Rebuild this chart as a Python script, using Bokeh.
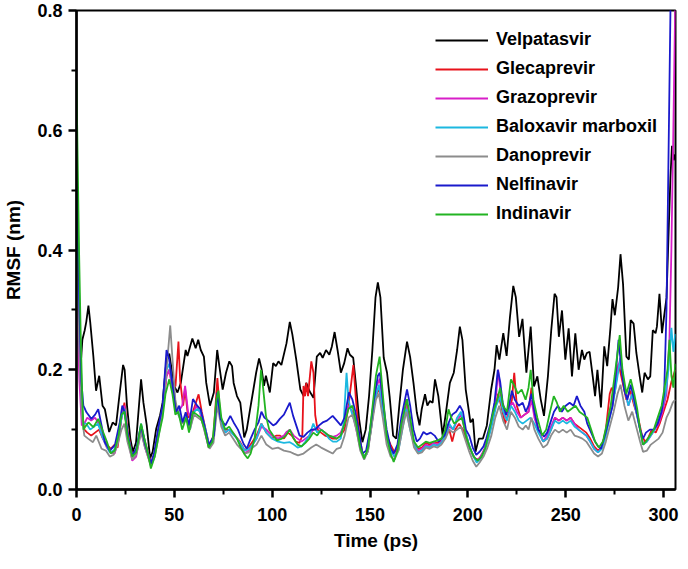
from bokeh.plotting import figure
from bokeh.models import Range1d, FixedTicker, PrintfTickFormatter, Legend, LegendItem
from bokeh.embed import file_html
from bokeh.resources import INLINE

names = ["Velpatasvir", "Glecaprevir", "Grazoprevir", "Baloxavir marboxil",
         "Danoprevir", "Nelfinavir", "Indinavir"]
colors = ["#000000", "#e8121b", "#d81ec8", "#1cb8e0", "#8c8c8c", "#1a1acc", "#22b422"]

# (time ps, RMSF nm) pairs
velpatasvir = [(0,0.27),(1,0.24),(2,0.2),(3,0.25),(4.2,0.266),(5,0.28),(6.1,0.307),(7,0.28),(8.6,0.223),(10,0.165),(11.6,0.19),(13.3,0.14),(14.5,0.134),(16.7,0.096),(18.5,0.112),(20.2,0.107),(22.1,0.162),(23.8,0.208),(24.6,0.2),(25.8,0.14),(27.5,0.085),(28.8,0.063),(30.4,0.078),(33,0.184),(34.2,0.145),(35.9,0.107),(37.6,0.052),(38.9,0.063),(40.7,0.101),(42.7,0.124),(44,0.145),(46,0.217),(47.4,0.227),(49.9,0.173),(51.6,0.162),(53.3,0.178),(55.8,0.233),(56.7,0.223),(59.2,0.252),(60.9,0.236),(62.2,0.25),(63.5,0.233),(65.1,0.222),(66.3,0.178),(68.2,0.14),(70.2,0.162),(71.9,0.233),(73,0.206),(74.7,0.167),(76.4,0.195),(78.1,0.214),(79.5,0.206),(80.3,0.178),(82,0.156),(83.7,0.145),(85.7,0.087),(87,0.1),(88.7,0.134),(90.4,0.167),(91.8,0.195),(93.3,0.219),(94.6,0.201),(95.8,0.173),(96.8,0.19),(98.8,0.162),(100.5,0.211),(101.9,0.206),(103.2,0.214),(104.7,0.208),(107.3,0.244),(109,0.28),(110.3,0.259),(112.3,0.217),(114.4,0.167),(116.1,0.156),(117.4,0.178),(119.1,0.164),(121.1,0.153),(122.8,0.222),(124.5,0.228),(125.8,0.22),(127.5,0.233),(129.2,0.225),(130.5,0.239),(131.9,0.263),(133.4,0.233),(135.1,0.195),(136.8,0.211),(138.5,0.236),(139.7,0.225),(141.4,0.22),(142.7,0.178),(144.4,0.118),(146.1,0.079),(147.8,0.1),(149.5,0.156),(151.2,0.233),(152.8,0.321),(154,0.346),(155.3,0.321),(157,0.22),(158.7,0.195),(160,0.156),(161.8,0.09),(163.4,0.085),(165.1,0.145),(166.8,0.2),(168.9,0.247),(170.5,0.221),(172.2,0.178),(173.9,0.129),(175.3,0.107),(176.4,0.134),(178.1,0.159),(179.3,0.14),(180.6,0.148),(182,0.145),(183.2,0.184),(184.9,0.156),(187.1,0.09),(188.8,0.129),(190.8,0.178),(192.8,0.195),(194.5,0.233),(195.9,0.272),(197.2,0.25),(198.9,0.167),(200.1,0.14),(201.3,0.112),(202.6,0.118),(203.9,0.063),(205.6,0.085),(207.7,0.085),(209.7,0.107),(211.9,0.167),(213.6,0.2),(214.7,0.241),(216.1,0.217),(218.1,0.261),(219.8,0.223),(221.5,0.288),(223.2,0.34),(224.5,0.321),(226.2,0.255),(227.9,0.285),(229.9,0.195),(232.1,0.272),(233.8,0.172),(235.5,0.189),(237.2,0.151),(238.9,0.123),(240.9,0.189),(242.6,0.266),(244.3,0.327),(245.3,0.321),(246.5,0.255),(248.1,0.299),(249.8,0.217),(251.5,0.269),(253.2,0.189),(254.9,0.261),(256.6,0.2),(258.3,0.233),(259.5,0.217),(260.8,0.228),(262.2,0.23),(263.8,0.189),(265,0.156),(266.2,0.2),(268,0.137),(269.7,0.239),(271.2,0.206),(272.9,0.272),(273.9,0.318),(275.1,0.291),(276.8,0.338),(278,0.393),(279.3,0.343),(281,0.222),(282.3,0.217),(283.2,0.283),(284.7,0.277),(286.1,0.228),(287.8,0.189),(289.1,0.162),(290.3,0.195),(292,0.184),(293.2,0.189),(294.5,0.266),(295.9,0.261),(296.6,0.272),(297.9,0.327),(299.2,0.261),(300.3,0.29),(301.5,0.32),(302.5,0.42),(303.5,0.52),(304.3,0.574),(305.2,0.55),(306,0.56)]

glecaprevir = [(0,0.33),(0.8,0.29),(1.8,0.2),(2.8,0.13),(4,0.1),(5.5,0.095),(7.5,0.09),(9.5,0.095),(11.5,0.1),(13.5,0.085),(15.5,0.075),(17.5,0.068),(19.5,0.075),(21,0.07),(23,0.12),(24.5,0.145),(26,0.1),(28.5,0.058),(30.5,0.065),(33,0.105),(35,0.08),(38,0.045),(40,0.06),(42,0.1),(44,0.13),(46,0.19),(47.5,0.2),(49,0.17),(50.6,0.173),(52.1,0.247),(53,0.18),(54.5,0.14),(55.5,0.168),(57,0.12),(59,0.125),(60.5,0.14),(62.4,0.159),(64,0.13),(66,0.1),(68,0.072),(70,0.09),(72,0.186),(73.5,0.12),(75.5,0.1),(77.5,0.1),(79.5,0.095),(81.5,0.088),(83.5,0.08),(86,0.065),(88,0.07),(90,0.08),(92,0.09),(94.5,0.11),(97,0.095),(100,0.085),(102,0.09),(104,0.09),(106,0.085),(108,0.095),(110,0.09),(112,0.08),(114,0.078),(115.4,0.09),(116,0.173),(116.8,0.156),(117.4,0.178),(118.3,0.156),(120,0.214),(121.1,0.195),(122,0.124),(123.2,0.1),(125,0.095),(127,0.09),(129,0.088),(131,0.085),(133,0.085),(135,0.09),(137,0.1),(139,0.14),(141.5,0.208),(142.8,0.15),(144.5,0.09),(146.5,0.055),(148.5,0.06),(150.5,0.1),(152.5,0.15),(154.5,0.17),(156.5,0.13),(158.5,0.09),(160.5,0.075),(162.5,0.062),(164.5,0.07),(166.5,0.11),(168.5,0.15),(170.5,0.11),(172.5,0.075),(174.5,0.068),(176.5,0.07),(178.5,0.078),(180.5,0.075),(182.5,0.08),(184.5,0.078),(186.5,0.082),(188.5,0.09),(190.5,0.1),(192,0.08),(193.5,0.1),(195.5,0.11),(197.5,0.1),(199.5,0.08),(201.5,0.065),(203.5,0.052),(205.5,0.05),(207.5,0.06),(209.5,0.075),(211.5,0.1),(213.5,0.13),(215.5,0.16),(217,0.14),(219,0.11),(221,0.13),(222.5,0.15),(223.7,0.195),(225,0.14),(227,0.12),(229,0.125),(231,0.13),(232.5,0.17),(234,0.13),(236,0.1),(238.5,0.08),(240.5,0.085),(242.5,0.1),(244.5,0.12),(246.5,0.115),(248.5,0.12),(250.5,0.115),(252.5,0.12),(254.5,0.11),(256.5,0.105),(258.5,0.1),(260.5,0.095),(262.5,0.085),(264.5,0.072),(266.5,0.065),(268.5,0.07),(270.5,0.1),(272.5,0.16),(273.5,0.17),(275,0.16),(277,0.21),(279,0.18),(281,0.15),(283,0.165),(285,0.14),(287,0.12),(289,0.09),(290.5,0.08),(292,0.085),(294,0.1),(296,0.095),(298,0.11),(300,0.13),(302,0.15),(304,0.18),(306,0.2)]

grazoprevir = [(0,0.3),(0.8,0.25),(1.5,0.18),(2.7,0.107),(4,0.11),(5.5,0.12),(7.5,0.115),(9.5,0.12),(11.5,0.11),(13.5,0.085),(15.5,0.07),(17.5,0.062),(19.5,0.06),(21.5,0.085),(23,0.12),(24.5,0.14),(26,0.09),(28.5,0.048),(30.5,0.055),(33,0.1),(35,0.07),(38,0.04),(40,0.058),(42,0.1),(44,0.13),(46,0.19),(47.5,0.2),(49,0.165),(50.5,0.14),(52,0.13),(54,0.14),(55.5,0.173),(57,0.13),(59,0.115),(61,0.14),(63,0.13),(65,0.105),(67.5,0.07),(70,0.085),(72,0.155),(74,0.115),(76,0.095),(78,0.1),(80,0.095),(82,0.085),(84,0.075),(86,0.06),(88,0.065),(90,0.075),(92,0.085),(94.5,0.105),(97,0.1),(100,0.09),(103,0.085),(106,0.09),(107.3,0.096),(109,0.1),(111,0.09),(113,0.085),(115,0.08),(117,0.085),(119,0.09),(121,0.1),(123,0.105),(125,0.1),(127,0.095),(129,0.09),(131,0.088),(133,0.09),(135,0.095),(137,0.11),(139,0.14),(141,0.13),(143,0.1),(145,0.068),(147,0.052),(149,0.065),(151,0.12),(153,0.17),(155,0.185),(156.5,0.14),(158.5,0.09),(160.5,0.065),(162.5,0.055),(164.5,0.068),(166.5,0.105),(168.5,0.14),(170.5,0.11),(172.5,0.078),(174.5,0.065),(176.5,0.068),(178.5,0.075),(180.5,0.072),(182.5,0.078),(184.5,0.075),(186.5,0.08),(188.5,0.09),(190.5,0.105),(192.5,0.1),(194.5,0.115),(196.5,0.125),(198.5,0.1),(200.5,0.075),(202.5,0.058),(204.5,0.048),(206.5,0.055),(208.5,0.068),(210.5,0.09),(212.5,0.12),(214.5,0.16),(215.5,0.2),(217,0.15),(219,0.12),(221,0.14),(223,0.145),(225,0.13),(227,0.12),(229,0.125),(231,0.13),(232.5,0.15),(234,0.12),(236,0.1),(238.5,0.08),(240.5,0.09),(242.5,0.105),(244.5,0.12),(246.5,0.115),(248.5,0.12),(250.5,0.115),(252.5,0.12),(254.5,0.11),(256.5,0.1),(258.5,0.095),(260.5,0.09),(262.5,0.08),(264.5,0.068),(266.5,0.062),(268.5,0.07),(270.5,0.095),(272.5,0.13),(274.5,0.16),(276.5,0.2),(278,0.22),(280,0.17),(282,0.14),(284,0.16),(286,0.13),(288,0.1),(289.5,0.075),(291.5,0.08),(293.5,0.09),(295.5,0.1),(297.5,0.11),(299.5,0.13),(301.5,0.16),(303,0.25),(304,0.4),(305,0.6),(306,0.82)]

baloxavir = [(0,0.45),(0.7,0.38),(1.5,0.25),(2.5,0.15),(3.5,0.11),(5,0.11),(7,0.1),(9,0.105),(11,0.11),(13,0.09),(15,0.075),(17,0.062),(19,0.065),(21,0.08),(23,0.12),(24.5,0.135),(26,0.095),(28.5,0.055),(30.5,0.063),(33,0.11),(35,0.08),(38,0.042),(40,0.06),(42,0.1),(44,0.135),(46,0.2),(47.5,0.21),(49,0.175),(50.5,0.14),(52,0.13),(54,0.11),(56,0.125),(58,0.1),(60,0.13),(62,0.135),(64,0.125),(66,0.1),(68,0.07),(70,0.085),(72,0.15),(74,0.11),(76,0.095),(78,0.1),(80,0.092),(82,0.085),(84,0.075),(86,0.065),(88,0.068),(90,0.075),(92,0.085),(94.5,0.11),(97,0.095),(100,0.085),(103,0.08),(106,0.078),(109,0.079),(111,0.075),(113,0.07),(115,0.072),(117,0.08),(119,0.09),(121,0.11),(123,0.095),(125,0.1),(127,0.095),(129,0.085),(131,0.08),(133,0.08),(135,0.085),(136.5,0.11),(138,0.195),(139,0.15),(140.5,0.13),(142.5,0.11),(144.5,0.08),(146.5,0.055),(148.5,0.06),(150.5,0.1),(152.5,0.15),(154.5,0.175),(156.5,0.13),(158.5,0.085),(160.5,0.065),(162.5,0.055),(164.5,0.065),(166.5,0.1),(168.5,0.135),(170.5,0.1),(172.5,0.075),(174.5,0.062),(176.5,0.065),(178.5,0.072),(180.5,0.07),(182.5,0.075),(184.5,0.073),(186.5,0.078),(188.5,0.09),(190.5,0.11),(192.5,0.1),(194.5,0.12),(196.5,0.13),(198.5,0.1),(200.5,0.075),(202.5,0.058),(204.5,0.045),(206.5,0.052),(208.5,0.065),(210.5,0.085),(212.5,0.11),(214.5,0.14),(216.5,0.155),(218,0.13),(220,0.115),(222,0.14),(224,0.13),(226,0.115),(228,0.11),(230,0.115),(232,0.12),(234,0.11),(236,0.095),(238.5,0.08),(240.5,0.085),(242.5,0.1),(244.5,0.115),(246.5,0.11),(248.5,0.115),(250.5,0.11),(252.5,0.115),(254.5,0.105),(256.5,0.1),(258.5,0.095),(260.5,0.09),(262.5,0.08),(264.5,0.068),(266.5,0.062),(268.5,0.068),(270.5,0.09),(272.5,0.12),(274.5,0.15),(276.5,0.19),(278,0.22),(280,0.17),(282,0.14),(284,0.16),(286,0.13),(288,0.1),(289.5,0.075),(291.5,0.08),(293.5,0.09),(295.5,0.1),(297.5,0.12),(299.5,0.14),(301,0.16),(302.5,0.2),(304,0.27),(305,0.23),(306,0.26)]

danoprevir = [(0,0.38),(0.8,0.3),(1.8,0.2),(2.8,0.12),(4,0.09),(5.9,0.085),(8.4,0.079),(10.1,0.09),(12.8,0.068),(15,0.065),(17,0.055),(19,0.058),(21,0.075),(23,0.1),(24.5,0.11),(26,0.08),(28.5,0.05),(30.5,0.058),(33,0.095),(35,0.07),(38,0.04),(40,0.055),(42,0.09),(44,0.13),(46,0.2),(47.9,0.274),(49,0.22),(50.5,0.15),(52,0.125),(54,0.11),(56,0.12),(58,0.1),(60,0.125),(62,0.12),(64,0.115),(66,0.09),(68,0.068),(70,0.078),(72,0.14),(74,0.105),(76,0.09),(78,0.095),(80,0.085),(82,0.075),(84,0.068),(86,0.06),(88,0.062),(90,0.07),(92,0.075),(94.5,0.09),(97,0.075),(100,0.068),(103,0.07),(106,0.065),(109,0.063),(111,0.06),(113.2,0.057),(116,0.06),(118,0.065),(120,0.07),(122.5,0.075),(125,0.07),(128,0.065),(130.9,0.06),(133,0.068),(135,0.07),(137,0.09),(139,0.12),(141,0.125),(143,0.1),(145,0.065),(147,0.05),(149,0.065),(151,0.11),(153,0.15),(154.5,0.16),(156.5,0.12),(158.5,0.075),(160.5,0.055),(162.5,0.05),(164.5,0.065),(166.5,0.1),(168.5,0.13),(170.5,0.1),(172.5,0.07),(174.5,0.06),(176.5,0.062),(178.5,0.07),(180.5,0.068),(182.5,0.072),(184.5,0.07),(186.5,0.075),(188.5,0.085),(190.5,0.1),(192.5,0.095),(194.5,0.1),(196.5,0.105),(198.5,0.085),(200.5,0.065),(202.5,0.048),(204.3,0.038),(206,0.045),(208,0.055),(210,0.07),(212,0.09),(214,0.12),(216,0.14),(218,0.115),(220,0.1),(222,0.13),(224,0.12),(226,0.105),(228,0.1),(229.6,0.107),(231,0.1),(232.5,0.12),(234,0.1),(236,0.085),(238.5,0.07),(240.5,0.075),(242.5,0.09),(244.5,0.1),(246.5,0.095),(248.5,0.1),(250.5,0.095),(252.5,0.1),(254.5,0.09),(256.5,0.088),(258.5,0.085),(260.5,0.08),(262.5,0.07),(264.5,0.06),(266.5,0.055),(268.5,0.06),(270.5,0.08),(272.5,0.105),(274.5,0.13),(276.5,0.16),(278,0.175),(280,0.14),(282,0.115),(284,0.13),(286,0.105),(288,0.08),(289.5,0.063),(291.5,0.065),(293.5,0.075),(295.5,0.08),(297.5,0.085),(299.5,0.095),(301.5,0.12),(303,0.13),(304.7,0.145),(306,0.15)]

nelfinavir = [(0,0.56),(0.7,0.45),(1.5,0.3),(2.5,0.18),(3.5,0.14),(4.4,0.134),(5.1,0.129),(7.6,0.118),(9.5,0.125),(11.1,0.134),(12.8,0.107),(14.5,0.079),(17,0.065),(19.6,0.074),(22.1,0.112),(23.4,0.14),(24.6,0.129),(26.3,0.09),(28.5,0.057),(30.5,0.068),(33,0.107),(35.2,0.074),(38.1,0.043),(39.8,0.063),(42,0.107),(44,0.14),(46,0.233),(47.4,0.217),(49.1,0.173),(50.8,0.129),(52.5,0.14),(54.2,0.112),(55.8,0.129),(57.5,0.107),(59.5,0.151),(61.7,0.14),(63.4,0.134),(65,0.112),(67.6,0.074),(70.2,0.09),(71.9,0.162),(73.6,0.118),(76.1,0.107),(78.6,0.123),(80.3,0.112),(82.5,0.1),(85.4,0.076),(87,0.068),(89,0.085),(91,0.1),(93,0.112),(94.5,0.13),(96,0.12),(98,0.115),(100.5,0.107),(102,0.11),(103.9,0.118),(106,0.125),(109,0.145),(110.7,0.123),(112.5,0.105),(114,0.09),(116,0.088),(118,0.095),(120,0.1),(122,0.1),(124,0.107),(125.8,0.112),(128,0.115),(130.9,0.123),(133,0.115),(135.1,0.107),(137,0.12),(139.2,0.162),(141,0.15),(142.5,0.13),(144.4,0.095),(146.1,0.06),(148,0.065),(150,0.1),(152,0.15),(154,0.19),(155,0.195),(156.5,0.15),(158.5,0.1),(160.5,0.07),(162.1,0.06),(164,0.075),(166,0.12),(168.9,0.167),(170.5,0.14),(172.2,0.1),(173.9,0.08),(175.5,0.085),(177.3,0.096),(179,0.092),(181,0.095),(183,0.09),(185,0.08),(186.3,0.085),(188,0.09),(190,0.11),(192,0.125),(194,0.13),(195.9,0.14),(197.5,0.13),(199,0.1),(200.7,0.09),(202.5,0.07),(204.3,0.058),(206,0.063),(208,0.072),(209.4,0.085),(211.5,0.11),(213.6,0.145),(215.3,0.2),(216.5,0.18),(217.8,0.145),(219.5,0.125),(221,0.14),(222.5,0.165),(224,0.15),(226,0.14),(228,0.145),(229.6,0.13),(231,0.14),(232.5,0.16),(234,0.13),(236,0.1),(238.9,0.088),(240.5,0.095),(242,0.11),(244,0.13),(246,0.14),(248,0.13),(250,0.14),(252,0.145),(254,0.14),(255.7,0.156),(257.5,0.14),(259.5,0.13),(261,0.11),(263,0.095),(265,0.08),(266.5,0.072),(268,0.068),(270,0.09),(272,0.115),(274,0.14),(275.5,0.19),(277,0.25),(278.5,0.2),(280,0.165),(281.5,0.15),(283.2,0.175),(285,0.15),(286.5,0.125),(288,0.1),(289.5,0.085),(291,0.095),(293,0.1),(295,0.1),(297,0.11),(299,0.13),(300.3,0.16),(301.5,0.3),(302.5,0.55),(303.6,0.82)]

indinavir = [(0,0.68),(0.6,0.55),(1.3,0.4),(2.2,0.25),(3,0.15),(3.6,0.1),(4.5,0.105),(6.1,0.112),(8.6,0.104),(11.1,0.118),(13.6,0.096),(15.5,0.08),(17.5,0.06),(19.5,0.065),(21.5,0.09),(23,0.125),(24.5,0.13),(26,0.09),(28.5,0.055),(30.5,0.062),(33,0.11),(35,0.08),(36.5,0.06),(38,0.035),(40,0.055),(42,0.09),(44,0.12),(45.5,0.16),(47.4,0.184),(49,0.16),(50.5,0.125),(52,0.13),(54,0.1),(56,0.12),(57.5,0.095),(59.5,0.13),(61.5,0.125),(63.5,0.12),(65.5,0.1),(67.5,0.07),(69.5,0.08),(71.5,0.15),(72.5,0.165),(74,0.12),(76,0.1),(78,0.105),(80,0.095),(82,0.085),(84,0.07),(86,0.058),(87.5,0.052),(89,0.06),(91,0.085),(93,0.14),(94.3,0.2),(95.1,0.178),(96.8,0.123),(98.5,0.1),(100.5,0.09),(102.5,0.082),(105,0.085),(107,0.09),(109,0.1),(111,0.085),(113,0.075),(115,0.072),(117,0.078),(119,0.085),(121,0.095),(123,0.09),(125,0.1),(127,0.095),(129,0.09),(131,0.088),(133,0.085),(135,0.09),(137,0.11),(139,0.135),(141,0.14),(143,0.11),(145,0.07),(147,0.052),(149,0.07),(151,0.13),(153,0.19),(154.9,0.222),(156.5,0.16),(158.5,0.09),(160.5,0.06),(162.1,0.046),(164,0.065),(166,0.11),(168.9,0.151),(170.5,0.12),(172.5,0.08),(174.5,0.07),(176.5,0.075),(178.5,0.08),(180.5,0.078),(182.5,0.08),(184.5,0.082),(186.5,0.085),(188.5,0.1),(190.1,0.134),(191.5,0.12),(193,0.11),(195,0.115),(197,0.12),(199,0.09),(201,0.07),(203,0.055),(205,0.048),(207,0.055),(209,0.07),(211,0.1),(213,0.13),(215,0.15),(216.5,0.17),(218,0.14),(220,0.13),(222,0.184),(223.5,0.175),(225.5,0.16),(227.5,0.167),(229.5,0.15),(231,0.17),(232.1,0.2),(233.5,0.15),(235.5,0.12),(238,0.09),(240,0.1),(242,0.13),(243.9,0.156),(245.5,0.145),(247,0.13),(249,0.14),(251,0.13),(253,0.135),(255,0.14),(257,0.13),(259,0.125),(261,0.12),(263,0.1),(265,0.08),(267,0.07),(269,0.08),(271,0.11),(273,0.14),(275,0.19),(277.6,0.258),(279,0.2),(281,0.16),(283.2,0.184),(285,0.16),(286.5,0.135),(288,0.1),(289.5,0.075),(291,0.08),(293,0.09),(295,0.1),(297,0.12),(299,0.14),(300.5,0.17),(302,0.2),(303,0.25),(304,0.19),(305,0.17),(306,0.21)]

series = [velpatasvir, glecaprevir, grazoprevir, baloxavir, danoprevir, nelfinavir, indinavir]

x_ticks = [0, 50, 100, 150, 200, 250, 300]
x_minor = [25, 75, 125, 175, 225, 275]
y_ticks = [0.0, 0.2, 0.4, 0.6, 0.8]
y_minor = [0.1, 0.3, 0.5, 0.7]

FONT = "Liberation Sans"

p = figure(width=680, height=553, output_backend="svg", toolbar_location=None,
           x_range=Range1d(0, 306.1), y_range=Range1d(0, 0.8),
           min_border_left=70, min_border_right=5, min_border_top=10, min_border_bottom=63)
p.xgrid.visible = False
p.ygrid.visible = False
p.background_fill_color = "white"
p.border_fill_color = "white"
p.outline_line_color = "black"
p.outline_line_width = 2

items = []
for name, col, data in zip(names, colors, series):
    xs = [d[0] for d in data]
    ys = [d[1] for d in data]
    r = p.line(xs, ys, line_color=col, line_width=1.8)
    items.append(LegendItem(label=name, renderers=[r]))

for ax in (p.xaxis[0], p.yaxis[0]):
    ax.axis_line_width = 2.5
    ax.axis_line_color = "black"
    ax.major_tick_line_width = 2.5
    ax.minor_tick_line_width = 2
    ax.major_tick_in = 0
    ax.major_tick_out = 8
    ax.minor_tick_in = 0
    ax.minor_tick_out = 5
    ax.major_label_text_font = FONT
    ax.major_label_text_font_style = "bold"
    ax.major_label_text_font_size = "18px"
    ax.major_label_text_color = "black"
    ax.axis_label_text_font = FONT
    ax.axis_label_text_font_style = "bold"
    ax.axis_label_text_font_size = "19px"
    ax.axis_label_text_color = "black"

p.xaxis[0].ticker = FixedTicker(ticks=x_ticks, minor_ticks=x_minor)
p.yaxis[0].ticker = FixedTicker(ticks=y_ticks, minor_ticks=y_minor)
p.yaxis[0].formatter = PrintfTickFormatter(format="%.1f")
p.xaxis[0].axis_label = "Time (ps)"
p.yaxis[0].axis_label = "RMSF (nm)"
p.xaxis[0].major_label_standoff = 10
p.yaxis[0].major_label_standoff = 6
p.xaxis[0].axis_label_standoff = 6
p.yaxis[0].axis_label_standoff = 10

legend = Legend(items=items, location=(359, 265))
legend.border_line_color = None
legend.background_fill_alpha = 0
legend.padding = 0
legend.margin = 0
legend.spacing = 8
legend.glyph_width = 53
legend.glyph_height = 20
legend.label_height = 20
legend.label_standoff = 8
legend.label_text_font = FONT
legend.label_text_font_style = "bold"
legend.label_text_font_size = "18px"
legend.label_text_color = "black"
p.add_layout(legend, "center")

open("out.html", "w").write(file_html(p, INLINE))
